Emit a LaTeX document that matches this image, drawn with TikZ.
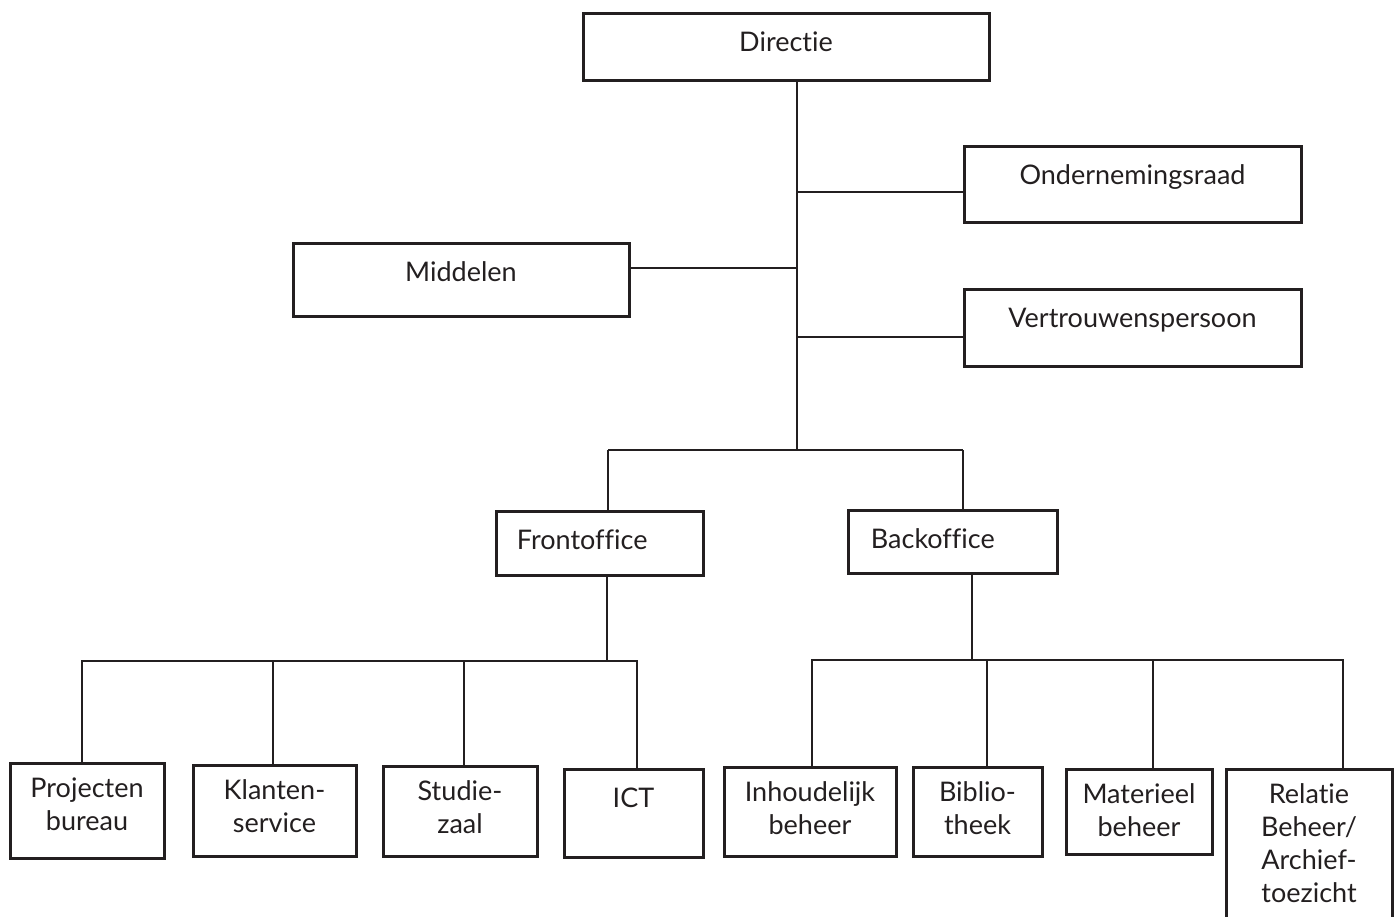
\documentclass[tikz,border=0pt]{standalone}
\usepackage{fontspec}
\setmainfont{Lato}[Ligatures=NoCommon]
\usepackage{tikz}

\definecolor{ink}{HTML}{231F20}

\tikzset{
  box/.style 2 args={draw=ink, line width=1.5pt, minimum width=#1, minimum height=#2, inner sep=0pt},
  txt/.style={anchor=north, yshift=-8pt, inner sep=0pt, align=center, text=ink,
    font=\fontsize{13.5}{16.5}\selectfont, execute at begin node=\strut},
  conn/.style={draw=ink, line width=1pt},
}

\begin{document}
\begin{tikzpicture}[x=0.5pt, y=-0.5pt]
  \useasboundingbox (0,0) rectangle (1396,916);

  % top level
  \node[box={203pt}{33.5pt}, label={[txt]north:Directie}] (dir) at (786,46.5) {};
  \node[box={168.5pt}{38pt}, label={[txt]north:Ondernemingsraad}] (ond) at (1132.5,184) {};
  \node[box={168pt}{36.5pt}, label={[txt]north:Middelen}] (mid) at (461,279.5) {};
  \node[box={168.5pt}{38.5pt}, label={[txt]north:Vertrouwenspersoon}] (ver) at (1132.5,327.5) {};

  % front- and backoffice
  \node[box={103.5pt}{32pt}, label={[txt, anchor=north west, xshift=11pt]north west:Frontoffice}] (fro) at (599.5,543) {};
  \node[box={104.5pt}{31.5pt}, label={[txt, anchor=north west, xshift=12pt]north west:Backoffice}] (bac) at (952.5,541.5) {};

  % departments
  \node[box={77pt}{47.5pt}, label={[txt]north:Projecten\\bureau}] (pro) at (87,810.5) {};
  \node[box={81.5pt}{45.5pt}, label={[txt]north:Klanten-\\service}] (kla) at (274.5,810.5) {};
  \node[box={77pt}{45pt}, label={[txt]north:Studie-\\zaal}] (stu) at (460,811) {};
  \node[box={69.5pt}{44pt}, label={[txt]north:ICT}] (ict) at (633.5,813) {};
  \node[box={86pt}{44.5pt}, label={[txt]north:Inhoudelijk\\beheer}] (inh) at (810,811.5) {};
  \node[box={64.5pt}{44.5pt}, label={[txt]north:Biblio-\\theek}] (bib) at (977.5,811.5) {};
  \node[box={73pt}{42.5pt}, label={[txt]north:Materieel\\beheer}] (mat) at (1139,811.5) {};
  \node[box={83pt}{80.5pt}, label={[txt]north:Relatie\\Beheer/\\Archief-\\toezicht}] (rel) at (1309,849.5) {};

  % junctions
  \coordinate (trunk) at (797,450);
  \coordinate (jond) at (797,192);
  \coordinate (jmid) at (797,268);
  \coordinate (jver) at (797,337);
  \coordinate (jfro) at (608,450);
  \coordinate (jbac) at (963,450);
  \coordinate (busf) at (607,661);
  \coordinate (busb) at (972,660);

  \draw[conn] (dir.south -| trunk) -- (trunk);
  \draw[conn] (jond) -- (jond -| ond.west);
  \draw[conn] (jmid) -- (jmid -| mid.east);
  \draw[conn] (jver) -- (jver -| ver.west);

  \draw[conn] (jfro) -- (jbac);
  \draw[conn] (jfro) -- (jfro |- fro.north);
  \draw[conn] (jbac) -- (jbac |- bac.north);

  \draw[conn] (fro.south -| busf) -- (busf);
  \draw[conn] (busf) -| ([xshift=-2.5pt]pro.north);
  \draw[conn] (busf) -| ([xshift=-0.75pt]kla.north);
  \draw[conn] (busf) -| ([xshift=2pt]stu.north);
  \draw[conn] (busf) -| ([xshift=1.75pt]ict.north);

  \draw[conn] (bac.south -| busb) -- (busb);
  \draw[conn] (busb) -| ([xshift=1pt]inh.north);
  \draw[conn] (busb) -| ([xshift=4.75pt]bib.north);
  \draw[conn] (busb) -| ([xshift=7pt]mat.north);
  \draw[conn] (busb) -| ([xshift=17pt]rel.north);
\end{tikzpicture}
\end{document}
